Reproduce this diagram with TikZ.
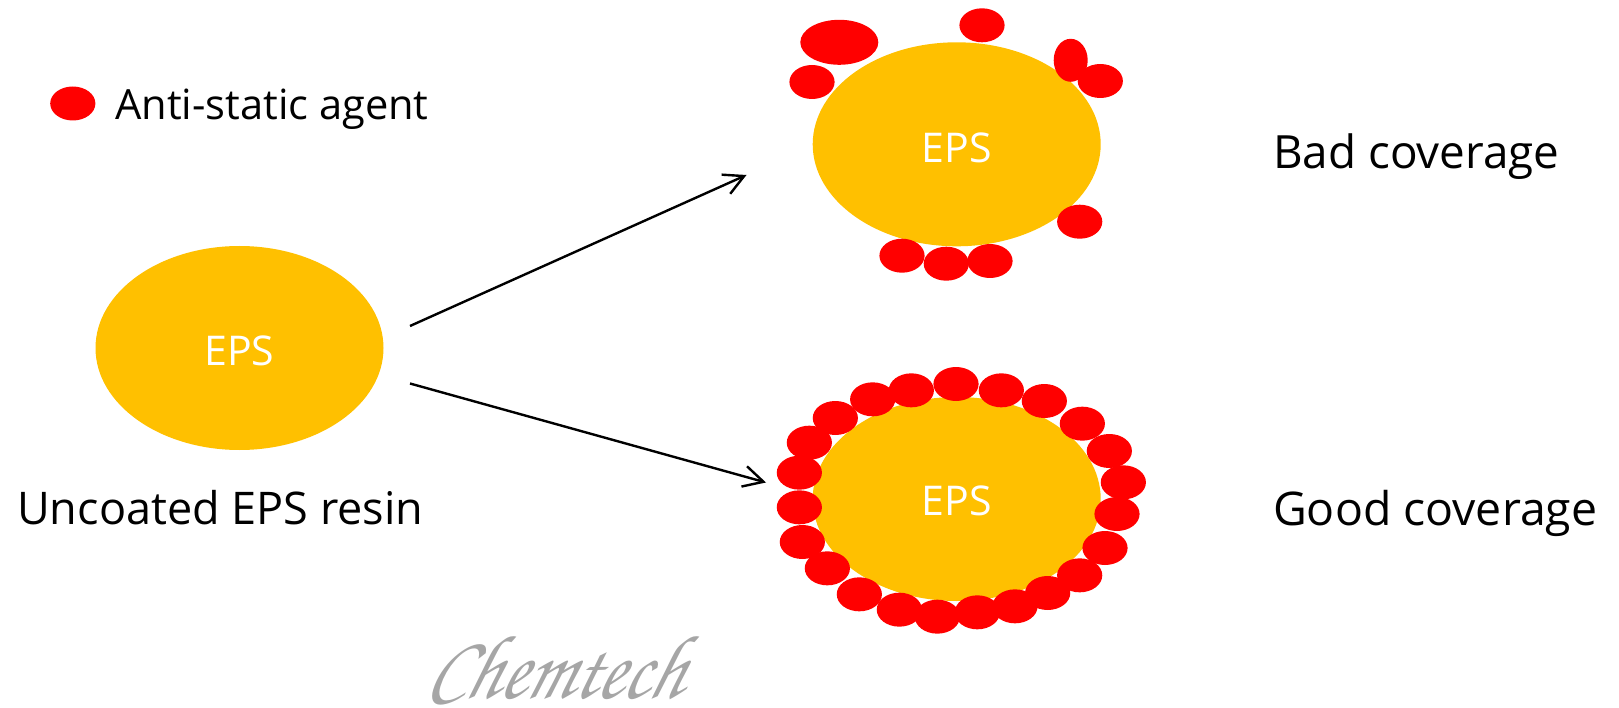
\documentclass[tikz,border=0pt]{standalone}
\usepackage{fontspec}
\setmainfont{Open Sans}
\definecolor{epsgold}{HTML}{FFC000}
\definecolor{agentred}{HTML}{FF0000}
\definecolor{markgray}{HTML}{A6A6A6}
\tikzset{
  bead/.style={fill=agentred,draw=none,shape=ellipse,minimum width=45.2pt,minimum height=34pt,inner sep=0pt},
  eps/.style={fill=epsgold,draw=none,shape=ellipse,minimum width=288pt,minimum height=204pt,inner sep=0pt},
  epstext/.style={text=white,anchor=base,inner sep=0pt,font=\fontsize{41}{45}\selectfont},
  lab/.style={text=black,anchor=base west,inner sep=0pt},
  arr/.style={draw=black,line width=2.4pt,-{Straight Barb[length=20pt,width=21pt,line width=2.4pt]}}
}
\usetikzlibrary{shapes.geometric,arrows.meta}
\begin{document}
\begin{tikzpicture}[x=1pt,y=-1pt]
\useasboundingbox (0,0) rectangle (1619,708);
% EPS particles
\node[eps] (left) at (239.5,348) {};
\node[eps] (top) at (956.7,144.3) {};
\node[eps] (bot) at (956.7,499) {};
\node[epstext] (lefttext) at (239.5,365.5) {EPS};
\node[epstext] (toptext) at (956.7,162.5) {EPS};
\node[epstext] (bottext) at (956.7,515) {EPS};
% legend
\node[bead] (legend) at (72.8,103.5) {};
\node[lab,font=\fontsize{41.6}{46}\selectfont] (legendtext) at (115,120) {Anti-static agent};
% labels
\node[lab,font=\fontsize{45}{50}\selectfont] (uncoated) at (17,524) {Uncoated EPS resin};
\node[lab,font=\fontsize{45.8}{50}\selectfont] (bad) at (1273,169) {Bad coverage};
\node[lab,font=\fontsize{46.4}{50}\selectfont] (good) at (1273,525) {Good coverage};
% bad coverage beads
\node[bead,minimum width=78pt,minimum height=45pt] (b1) at (839.3,42.3) {};
\node[bead] (b2) at (982,25.3) {};
\node[bead] (b3) at (812,82) {};
\node[bead] (b5) at (1100.3,81) {};
\node[bead,minimum width=34pt,minimum height=43pt] (b4) at (1070.7,60.3) {};
\node[bead] (b6) at (1079.7,221.7) {};
\node[bead] (b7) at (902,255.7) {};
\node[bead] (b8) at (946.3,263.7) {};
\node[bead] (b9) at (990,261) {};
% good coverage beads
\foreach \n/\zx/\zy in {1/678/102,2/814/121,3/943/153,4/1057/221,5/1138/303,6/1180/397,7/1161/492,8/1125/594,9/1049/676,10/953/729,11/855/769,12/742/787,13/622/800,14/508/779,15/388/733,16/292/655,17/217/576,18/208/472,19/208/368,20/238/278,21/316/204,22/428/148,23/544/121}
  \node[bead] (g\n) at ({730+\zx/3},{350+\zy/3}) {};
% arrows
\coordinate (a1s) at (410,326);
\coordinate (a1e) at (746.5,175);
\coordinate (a2s) at (410,383.5);
\coordinate (a2e) at (766,482.5);
\draw[arr] (a1s) -- (a1e);
\draw[arr] (a2s) -- (a2e);
% watermark
\begin{scope}[shift={(424,698)}]
\node[text=markgray,anchor=base west,inner sep=0pt,xslant=.3,yscale=1.2,transform shape,font=\fontencoding{T1}\fontfamily{pzc}\fontseries{m}\fontshape{it}\fontsize{76}{80}\selectfont] (mark) at (0,0) {Chemtech};
\end{scope}
\end{tikzpicture}
\end{document}
